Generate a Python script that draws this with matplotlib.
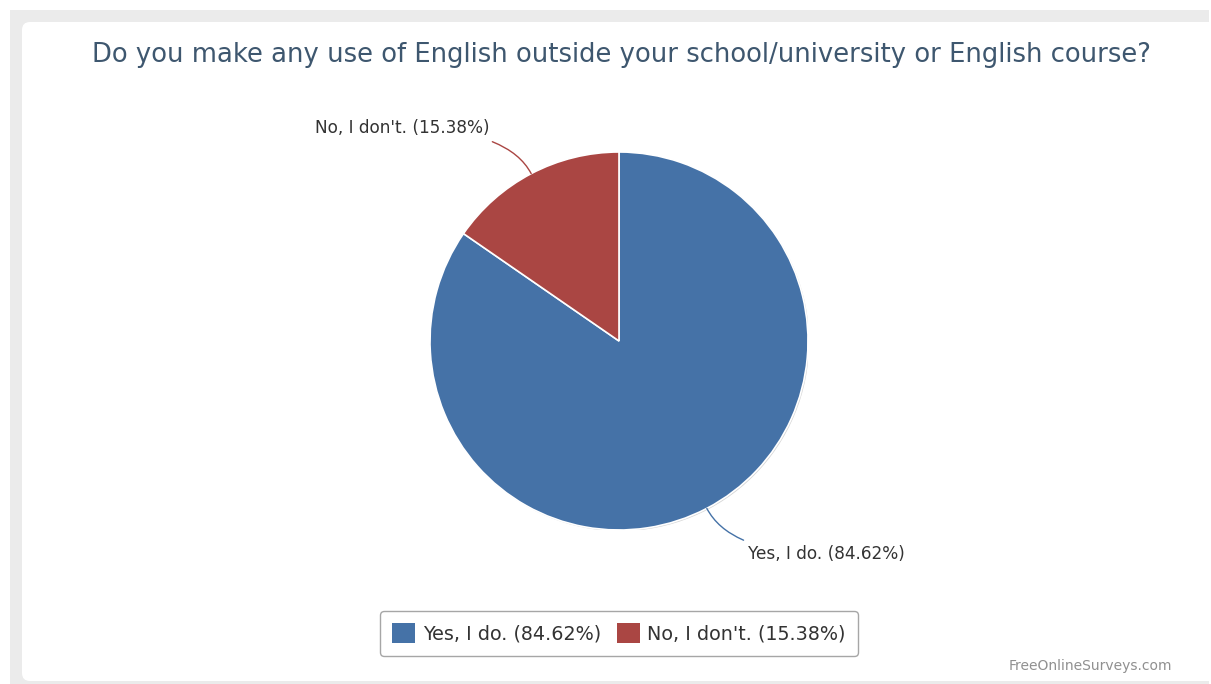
import numpy as np
from matplotlib import pyplot as plt
from matplotlib import patches as mpatches

# data
labels = ["Yes, I do.", "No, I don't."]
shares = [84.62, 15.38]
colors = ["#4572A7", "#AA4643"]
title = "Do you make any use of English outside your school/university or English course?"
credit = "FreeOnlineSurveys.com"

W, H = 1211, 684
fig = plt.figure(figsize=(W / 100, H / 100), dpi=100)
fig.patch.set_facecolor("white")

# background frame (pixel coords, y from top)
bg = fig.add_axes([0, 0, 1, 1])
bg.set_xlim(0, W)
bg.set_ylim(H, 0)
bg.axis("off")
bg.add_patch(mpatches.Rectangle((10, 10), W - 12, H, facecolor="#ebebeb", edgecolor="none"))
bg.add_patch(mpatches.FancyBboxPatch((22, 22), W + 20, 681 - 22,
                                     boxstyle="round,pad=0,rounding_size=8",
                                     facecolor="white", edgecolor="none"))

fig.text(92 / W, 1 - 55 / H, title, fontsize=18.6, color="#3E576F",
         ha="left", va="center")
fig.text(1172 / W, 1 - 666 / H, credit, fontsize=10, color="#909090",
         ha="right", va="center")

# pie
cx, cy, r = 619, 341, 189
ax = fig.add_axes([(cx - r) / W, 1 - (cy + r) / H, 2 * r / W, 2 * r / H])
ax.add_patch(mpatches.Circle((0.006, -0.006), 1.0, facecolor="#d5d5d5", edgecolor="none"))
wedges, _ = ax.pie(shares, colors=colors, startangle=90, counterclock=False,
                   radius=1.0, wedgeprops=dict(edgecolor="white", linewidth=1.2))
ax.set_xlim(-1, 1)
ax.set_ylim(-1, 1)
ax.axis("off")

for w, lab, val, col in zip(wedges, labels, shares, colors):
    mid = np.deg2rad((w.theta1 + w.theta2) / 2)
    ex, ey = np.cos(mid), np.sin(mid)
    side = 1 if ex > 0 else -1
    tx, ty = 1.27 * ex + side * 0.05, 1.27 * ey
    ax.annotate(f"{lab} ({val:.2f}%)", xy=(ex, ey), xytext=(tx + side * 0.045, ty),
                ha="left" if side > 0 else "right", va="center",
                fontsize=12.2, color="#333333", annotation_clip=False,
                arrowprops=dict(arrowstyle="-", color=col, lw=1,
                                shrinkA=3, shrinkB=0,
                                connectionstyle=f"angle3,angleA=0,angleB={np.rad2deg(mid):.1f}"))

handles = [mpatches.Patch(facecolor=c, edgecolor="none") for c in colors]
leg = fig.legend(handles, [f"{l} ({v:.2f}%)" for l, v in zip(labels, shares)],
                 loc="center", bbox_to_anchor=(619 / W, 1 - 633.5 / H), ncol=2,
                 fontsize=13.8, frameon=True, fancybox=True, edgecolor="#909090",
                 handlelength=1.2, handleheight=1.2, handletextpad=0.4,
                 columnspacing=0.8, borderpad=0.65, borderaxespad=0,
                 labelcolor="#333333")
leg.get_frame().set_linewidth(1)

fig.savefig("out.png", dpi=100)
